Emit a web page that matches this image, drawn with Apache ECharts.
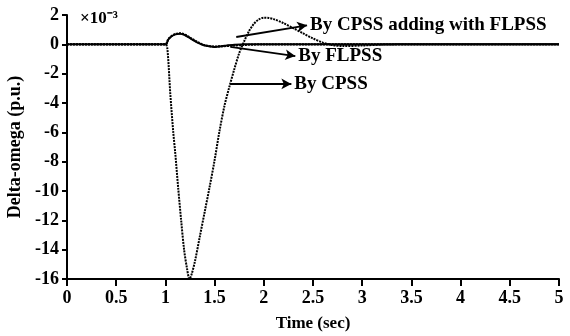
<!DOCTYPE html>
<html>
<head>
<meta charset="utf-8">
<script src="https://cdn.jsdelivr.net/npm/echarts@6/dist/echarts.min.js"></script>
<style>html,body{margin:0;padding:0;background:#fff}#c{width:570px;height:336px}</style>
</head>
<body>
<div id="c"></div>
<script>
var xTicks = [0, 0.5, 1, 1.5, 2, 2.5, 3, 3.5, 4, 4.5, 5];
var yTicks = [2, 0, -2, -4, -6, -8, -10, -12, -14, -16];

var tCPSS = [0, 1.0, 1.02, 1.05, 1.08, 1.1, 1.13, 1.16, 1.19, 1.22, 1.245, 1.27, 1.3, 1.35, 1.4, 1.45, 1.5, 1.55, 1.6, 1.65, 1.7, 1.75, 1.8, 1.85, 1.9, 1.95, 2.0, 2.05, 2.1, 2.2, 2.3, 2.4, 2.5, 2.6, 2.7, 2.8, 3.0, 3.2, 3.4, 5];
var vCPSS = [0, 0, -0.3, -3.4, -6.0, -7.4, -9.8, -12.0, -14.0, -15.3, -16, -15.6, -14.8, -13.1, -11.4, -9.7, -7.9, -5.9, -4.2, -2.9, -1.7, -0.6, 0.2, 0.9, 1.4, 1.7, 1.82, 1.8, 1.72, 1.45, 1.1, 0.75, 0.4, 0.12, -0.05, -0.12, -0.08, -0.02, 0, 0];

var tFLPSS = [0, 1.0, 1.03, 1.06, 1.1, 1.15, 1.2, 1.25, 1.3, 1.35, 1.4, 1.5, 1.6, 1.7, 1.8, 2.0, 5];
var vFLPSS = [0, 0, 0.35, 0.55, 0.7, 0.75, 0.65, 0.45, 0.25, 0.08, -0.06, -0.15, -0.12, -0.08, -0.04, 0, 0];

var tBOTH = [0, 1.0, 1.03, 1.06, 1.1, 1.15, 1.2, 1.25, 1.3, 1.35, 1.4, 1.5, 1.6, 1.7, 1.8, 2.0, 5];
var vBOTH = [0, 0, 0.33, 0.53, 0.68, 0.73, 0.62, 0.42, 0.22, 0.05, -0.08, -0.18, -0.1, -0.03, 0.01, 0, 0];

var labels = ['By CPSS adding with FLPSS', 'By FLPSS', 'By CPSS'];
var arrowFrom = [[1.72, 0.5], [1.66, -0.18], [1.66, -2.7]];
var arrowTo = [[2.44, 1.3], [2.32, -0.8], [2.28, -2.7]];

function pairs(t, v) { return t.map(function (x, i) { return [x, v[i]]; }); }

var font = '"Liberation Serif", "Times New Roman", serif';
var fs = 18;
var chart = echarts.init(document.getElementById('c'), null, {renderer: 'canvas'});

var arrows = labels.map(function (name, i) {
  return [
    {coord: arrowFrom[i], symbol: 'none'},
    {coord: arrowTo[i], symbol: 'arrow', symbolSize: [8, 10],
     label: {show: true, position: 'end', formatter: name, color: '#000', fontFamily: font, fontWeight: 'bold', fontSize: 19, distance: 3}}
  ];
});

chart.setOption({
  backgroundColor: '#fff',
  animation: false,
  grid: {left: 67, right: 11, top: 15, bottom: 57, containLabel: false, outerBoundsMode: 'none'},
  xAxis: {
    type: 'value', min: 0, max: 5, interval: 0.5,
    name: 'Time (sec)', nameLocation: 'middle', nameGap: 36,
    nameTextStyle: {color: '#000', fontFamily: font, fontWeight: 'bold', fontSize: 17},
    axisLine: {show: true, onZero: false, lineStyle: {color: '#000', width: 2}},
    axisTick: {show: true, inside: false, length: 7, lineStyle: {color: '#000', width: 2}},
    axisLabel: {color: '#000', fontFamily: font, fontWeight: 'bold', fontSize: fs, margin: 10},
    splitLine: {show: false}
  },
  yAxis: {
    type: 'value', min: -16, max: 2, interval: 2,
    name: 'Delta-omega (p.u.)', nameLocation: 'middle', nameGap: 40,
    nameTextStyle: {color: '#000', fontFamily: font, fontWeight: 'bold', fontSize: fs},
    axisLine: {show: true, onZero: false, lineStyle: {color: '#000', width: 2}},
    axisTick: {show: true, length: 5, lineStyle: {color: '#000', width: 2}},
    axisLabel: {color: '#000', fontFamily: font, fontWeight: 'bold', fontSize: fs, margin: 8},
    splitLine: {show: false}
  },
  graphic: [{
    type: 'text', left: 80, top: 10,
    style: {text: '×10⁻³', fill: '#000', font: 'bold 17px ' + font}
  }],
  series: [
    {
      name: 'By CPSS', type: 'line', data: pairs(tCPSS, vCPSS), showSymbol: false, smooth: 0.3,
      lineStyle: {color: '#000', width: 2, type: [2, 1]}, z: 3
    },
    {
      name: 'By FLPSS', type: 'line', data: pairs(tFLPSS, vFLPSS), showSymbol: false, smooth: 0.3,
      lineStyle: {color: '#000', width: 2.2, type: [2, 1]}, z: 3
    },
    {
      name: 'By CPSS adding with FLPSS', type: 'line', data: pairs(tBOTH, vBOTH), showSymbol: false, smooth: 0.3,
      lineStyle: {color: '#000', width: 2, type: 'solid'}, z: 4,
      markLine: {
        silent: true, symbol: ['none', 'arrow'],
        lineStyle: {color: '#000', width: 1.8, type: 'solid'},
        data: arrows
      }
    }
  ]
});
</script>
</body>
</html>
